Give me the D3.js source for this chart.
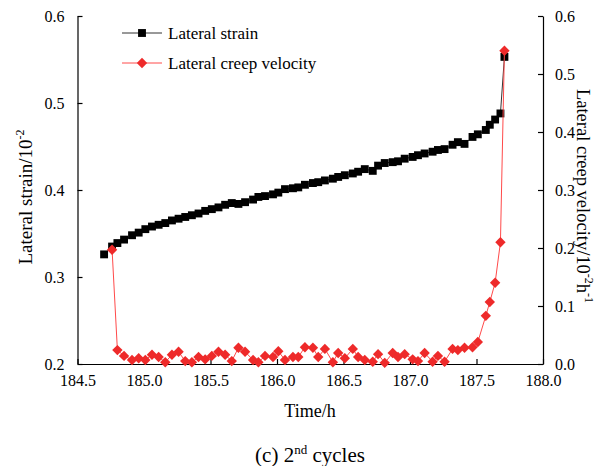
<!DOCTYPE html>
<html>
<head>
<meta charset="utf-8">
<script src="https://cdn.jsdelivr.net/npm/d3@7"></script>
<style>
  body { margin: 0; background: #fff; }
  svg { font-family: "Liberation Serif", "Times New Roman", serif; }
  .axis path, .axis line { stroke: #000; stroke-width: 1.2; }
  .axis text { font-family: "Liberation Serif", serif; font-size: 16px; fill: #000; }
</style>
</head>
<body>
<svg id="chart" width="608" height="466"></svg>
<script>
// time (h) for each strain reading
var strainTime = [184.70, 184.76, 184.80, 184.85, 184.91, 184.96, 185.01, 185.06, 185.11, 185.16,
  185.21, 185.26, 185.31, 185.36, 185.41, 185.46, 185.51, 185.56, 185.61, 185.66,
  185.71, 185.76, 185.82, 185.86, 185.91, 185.97, 186.01, 186.06, 186.12, 186.16,
  186.21, 186.27, 186.31, 186.36, 186.42, 186.46, 186.51, 186.57, 186.61, 186.66,
  186.72, 186.76, 186.81, 186.87, 186.91, 186.96, 187.02, 187.06, 187.11, 187.17,
  187.21, 187.26, 187.32, 187.36, 187.41, 187.47, 187.51, 187.57, 187.60, 187.64,
  187.68, 187.71];
var strain = [0.326, 0.335, 0.339, 0.343, 0.348, 0.351, 0.355, 0.358, 0.360, 0.362,
  0.365, 0.367, 0.369, 0.371, 0.373, 0.376, 0.378, 0.380, 0.383, 0.385,
  0.384, 0.386, 0.389, 0.392, 0.393, 0.395, 0.397, 0.401, 0.402, 0.403,
  0.406, 0.408, 0.409, 0.411, 0.413, 0.415, 0.417, 0.419, 0.421, 0.424,
  0.422, 0.428, 0.431, 0.432, 0.433, 0.436, 0.438, 0.440, 0.442, 0.444,
  0.446, 0.447, 0.452, 0.455, 0.453, 0.461, 0.464, 0.469, 0.475, 0.481,
  0.488, 0.553];

// creep velocity starts at the second reading
var velTime = strainTime.slice(1);
var velocity = [0.197, 0.024, 0.014, 0.007, 0.010, 0.007, 0.016, 0.012, 0.003, 0.016,
  0.021, 0.005, 0.003, 0.012, 0.008, 0.014, 0.021, 0.016, 0.005, 0.028,
  0.021, 0.007, 0.003, 0.014, 0.012, 0.022, 0.007, 0.012, 0.012, 0.029,
  0.028, 0.012, 0.026, 0.003, 0.019, 0.010, 0.026, 0.012, 0.007, 0.004,
  0.017, 0.002, 0.019, 0.012, 0.017, 0.008, 0.005, 0.019, 0.004, 0.014,
  0.004, 0.026, 0.024, 0.028, 0.029, 0.038, 0.083, 0.107, 0.140, 0.210,
  0.540];

var xTicks = [184.5, 185.0, 185.5, 186.0, 186.5, 187.0, 187.5, 188.0];
var leftTicks = [0.2, 0.3, 0.4, 0.5, 0.6];
var rightTicks = [0.0, 0.1, 0.2, 0.3, 0.4, 0.5, 0.6];

var svg = d3.select('#chart');
var L = 77.5, R = 543, T = 16, B = 364;

var x = d3.scaleLinear().domain([184.5, 188.0]).range([L, R]);
var yL = d3.scaleLinear().domain([0.2, 0.6]).range([B, T]);
var yR = d3.scaleLinear().domain([0.0, 0.6]).range([B, T]);

var xAxis = d3.axisBottom(x).tickValues(xTicks).tickFormat(d3.format('.1f'))
  .tickSizeInner(-5).tickSizeOuter(0).tickPadding(11);
var lAxis = d3.axisLeft(yL).tickValues(leftTicks).tickFormat(d3.format('.1f'))
  .tickSizeInner(-5).tickSizeOuter(0).tickPadding(13);
var rAxis = d3.axisRight(yR).tickValues(rightTicks).tickFormat(d3.format('.1f'))
  .tickSizeInner(-5).tickSizeOuter(0).tickPadding(12);

svg.append('g').attr('class', 'axis').attr('transform', 'translate(0,' + B + ')').call(xAxis);
svg.append('g').attr('class', 'axis').attr('transform', 'translate(' + L + ',0)').call(lAxis);
svg.append('g').attr('class', 'axis').attr('transform', 'translate(' + R + ',0)').call(rAxis);

var strainData = strainTime.map(function (t, i) { return {t: t, v: strain[i]}; });
var velData = velTime.map(function (t, i) { return {t: t, v: velocity[i]}; });

var squareSym = d3.symbol().type(d3.symbolSquare).size(62);
var diamondSym = d3.symbol().type(d3.symbolSquare).size(54);

// strain line + squares
svg.append('path')
  .datum(strainData)
  .attr('fill', 'none')
  .attr('stroke', '#333')
  .attr('stroke-width', 1)
  .attr('d', d3.line().x(function (d) { return x(d.t); }).y(function (d) { return yL(d.v); }));

svg.selectAll('.sq')
  .data(strainData)
  .enter()
  .append('path')
  .attr('class', 'sq')
  .attr('d', squareSym)
  .attr('fill', '#000')
  .attr('transform', function (d) { return 'translate(' + x(d.t) + ',' + yL(d.v) + ')'; });

// velocity line + diamonds
svg.append('path')
  .datum(velData)
  .attr('fill', 'none')
  .attr('stroke', '#ff4a4a')
  .attr('stroke-width', 1)
  .attr('d', d3.line().x(function (d) { return x(d.t); }).y(function (d) { return yR(d.v); }));

svg.selectAll('.dm')
  .data(velData)
  .enter()
  .append('path')
  .attr('class', 'dm')
  .attr('d', diamondSym)
  .attr('fill', '#ee2a2a')
  .attr('transform', function (d) { return 'translate(' + x(d.t) + ',' + yR(d.v) + ') rotate(45)'; });

// legend
var legend = [
  {label: 'Lateral strain', line: '#333', fill: '#000', sym: squareSym, rot: 0, y: 33},
  {label: 'Lateral creep velocity', line: '#ff4a4a', fill: '#ee2a2a', sym: diamondSym, rot: 45, y: 63}
];
legend.forEach(function (d) {
  svg.append('line').attr('x1', 122).attr('x2', 162).attr('y1', d.y).attr('y2', d.y)
    .attr('stroke', d.line).attr('stroke-width', 1);
  svg.append('path').attr('d', d.sym).attr('fill', d.fill)
    .attr('transform', 'translate(142,' + d.y + ') rotate(' + d.rot + ')');
  svg.append('text').attr('x', 168).attr('y', d.y + 6)
    .style('font-size', '17px').text(d.label);
});

// axis titles
var lt = svg.append('text')
  .attr('transform', 'translate(32,197) rotate(-90)')
  .attr('text-anchor', 'middle')
  .style('font-size', '19px');
lt.append('tspan').text('Lateral strain/10');
lt.append('tspan').attr('dy', -8).style('font-size', '12px').text('-2');

var rt = svg.append('text')
  .attr('transform', 'translate(577,196) rotate(90)')
  .attr('text-anchor', 'middle')
  .style('font-size', '18.5px');
rt.append('tspan').text('Lateral creep velocity/10');
rt.append('tspan').attr('dy', -8).style('font-size', '12px').text('-2');
rt.append('tspan').attr('dy', 8).text('h');
rt.append('tspan').attr('dy', -8).style('font-size', '12px').text('-1');

svg.append('text')
  .attr('x', 310).attr('y', 417)
  .attr('text-anchor', 'middle')
  .style('font-size', '18px')
  .text('Time/h');

var cap = svg.append('text')
  .attr('x', 310).attr('y', 462)
  .attr('text-anchor', 'middle')
  .style('font-size', '21px');
cap.append('tspan').text('(c) 2');
cap.append('tspan').attr('dy', -8).style('font-size', '13px').text('nd');
cap.append('tspan').attr('dy', 8).text(' cycles');
</script>
</body>
</html>
